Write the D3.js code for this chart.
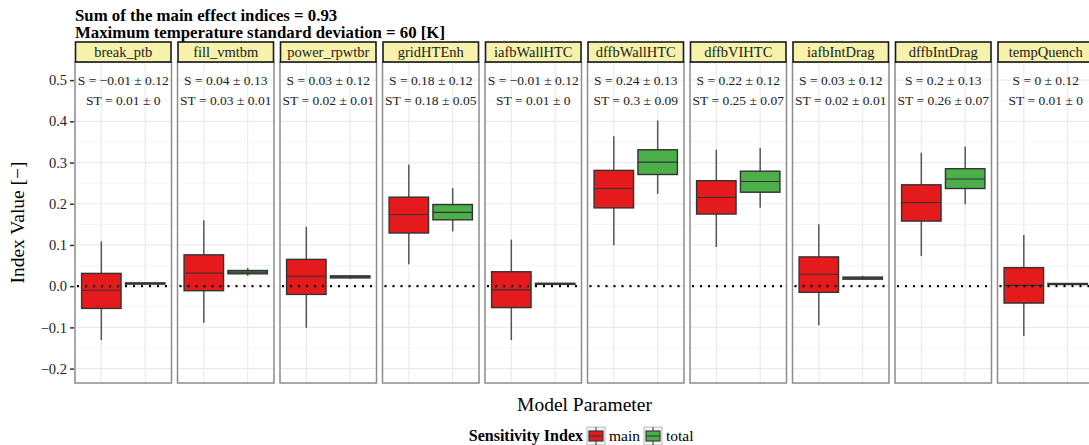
<!DOCTYPE html>
<html>
<head>
<meta charset="utf-8">
<script src="https://cdn.jsdelivr.net/npm/d3@7"></script>
<style>
  body { margin: 0; background: #fff; }
  svg { display: block; font-family: "Liberation Serif", "Times New Roman", serif; }
</style>
</head>
<body>
<div class="graph"></div>
<script>
// model parameters (facets)
var params = ['break_ptb', 'fill_vmtbm', 'power_rpwtbr', 'gridHTEnh', 'iafbWallHTC',
              'dffbWallHTC', 'dffbVIHTC', 'iafbIntDrag', 'dffbIntDrag', 'tempQuench'];
var indexTypes = ['main', 'total'];

// box stats per parameter: [lower whisker, q1, median, q3, upper whisker]
var mainStats = [
  [-0.131, -0.054, -0.010, 0.031, 0.109],
  [-0.089, -0.011, 0.032, 0.076, 0.160],
  [-0.101, -0.020, 0.024, 0.065, 0.144],
  [0.053, 0.129, 0.174, 0.216, 0.295],
  [-0.131, -0.052, -0.009, 0.035, 0.113],
  [0.099, 0.190, 0.237, 0.281, 0.364],
  [0.095, 0.175, 0.215, 0.256, 0.331],
  [-0.095, -0.015, 0.029, 0.071, 0.150],
  [0.073, 0.158, 0.203, 0.246, 0.324],
  [-0.121, -0.041, 0.002, 0.045, 0.124]
];
var totalStats = [
  [0.004, 0.005, 0.0065, 0.008, 0.009],
  [0.025, 0.030, 0.034, 0.038, 0.044],
  [0.018, 0.020, 0.0225, 0.025, 0.027],
  [0.133, 0.161, 0.179, 0.198, 0.238],
  [0.004, 0.005, 0.0060, 0.007, 0.008],
  [0.224, 0.271, 0.301, 0.331, 0.402],
  [0.190, 0.228, 0.254, 0.279, 0.335],
  [0.015, 0.017, 0.0195, 0.022, 0.025],
  [0.199, 0.237, 0.260, 0.285, 0.339],
  [0.004, 0.0045, 0.0055, 0.0065, 0.007]
];

// annotation values
var sMean  = [-0.01, 0.04, 0.03, 0.18, -0.01, 0.24, 0.22, 0.03, 0.2, 0];
var sSd    = [0.12, 0.13, 0.12, 0.12, 0.12, 0.13, 0.12, 0.12, 0.13, 0.12];
var stMean = [0.01, 0.03, 0.02, 0.18, 0.01, 0.3, 0.25, 0.02, 0.26, 0.01];
var stSd   = [0, 0.01, 0.01, 0.05, 0, 0.09, 0.07, 0.01, 0.07, 0];

var yTicks = [-0.2, -0.1, 0, 0.1, 0.2, 0.3, 0.4, 0.5];
var yMinor = [-0.15, -0.05, 0.05, 0.15, 0.25, 0.35, 0.45];

var titleLines = ['Sum of the main effect indices = 0.93',
                  'Maximum temperature standard deviation = 60 [K]'];

// layout
var w = 1089, h = 445;
var svg = d3.select('div.graph').append('svg').attr('width', w).attr('height', h);

var pTop = 62, pBottom = 383, stripTop = 42;
var panelLeft = 75, panelW = 96.5, gap = 6;

var fx = d3.scaleBand().domain(params)
  .range([panelLeft, panelLeft + params.length * panelW + (params.length - 1) * gap])
  .paddingInner(gap / (panelW + gap)).paddingOuter(0);
var bw = fx.bandwidth();
var x = d3.scalePoint().domain(indexTypes).range([0, bw]).padding(0.6);
var step = x.step();
var y = d3.scaleLinear().domain([-0.235, 0.544]).range([pBottom, pTop]);

var color = { main: '#e41a1c', total: '#4daf4a' };

function fmt(v) {
  return String(v).replace('-', '\u2212');
}

// title
svg.selectAll('.title').data(titleLines).enter().append('text')
  .attr('class', 'title')
  .attr('x', panelLeft).attr('y', function(d, i){ return 21 + i * 17; })
  .style('font-family', '"Liberation Serif", serif')
  .style('font-weight', 'bold').style('font-size', '16.8px').attr('fill', '#000')
  .text(function(d){ return d; });

// y axis
var yAxis = d3.axisLeft(y).tickValues(yTicks).tickSize(4).tickPadding(3)
  .tickFormat(d3.format('.1f'));
var yAxisG = svg.append('g').attr('transform', 'translate(' + (panelLeft - 1) + ',0)').call(yAxis);
yAxisG.select('.domain').remove();
yAxisG.selectAll('.tick line').attr('stroke', '#333').attr('stroke-width', 1.5);
yAxisG.selectAll('.tick text').attr('font-size', 14.5).attr('fill', '#222')
  .attr('font-family', '"Liberation Serif", serif');

svg.append('text')
  .attr('transform', 'translate(24,' + ((pTop + pBottom) / 2) + ') rotate(-90)')
  .attr('text-anchor', 'middle').attr('font-size', 19.5).attr('fill', '#000')
  .text('Index Value [\u2212]');

// panels
var panel = svg.selectAll('.panel').data(params).enter().append('g')
  .attr('class', 'panel')
  .attr('transform', function(d){ return 'translate(' + fx(d) + ',0)'; });

panel.append('rect').attr('x', 0).attr('y', pTop).attr('width', bw).attr('height', pBottom - pTop)
  .attr('fill', '#fff');

// grid
panel.each(function(){
  var g = d3.select(this);
  g.selectAll('.minor').data(yMinor).enter().append('line')
    .attr('x1', 0).attr('x2', bw)
    .attr('y1', function(d){ return y(d); }).attr('y2', function(d){ return y(d); })
    .attr('stroke', '#f3f3f3').attr('stroke-width', 0.8);
  g.selectAll('.major').data(yTicks).enter().append('line')
    .attr('x1', 0).attr('x2', bw)
    .attr('y1', function(d){ return y(d); }).attr('y2', function(d){ return y(d); })
    .attr('stroke', '#ebebeb').attr('stroke-width', 1.2);
  g.selectAll('.vgrid').data(indexTypes).enter().append('line')
    .attr('x1', function(d){ return x(d); }).attr('x2', function(d){ return x(d); })
    .attr('y1', pTop).attr('y2', pBottom)
    .attr('stroke', '#ebebeb').attr('stroke-width', 1.2);
});

// boxes
panel.each(function(p, i){
  var g = d3.select(this);
  var boxes = [{ type: 'main', s: mainStats[i] }, { type: 'total', s: totalStats[i] }];
  var bg = g.selectAll('.box').data(boxes).enter().append('g').attr('class', 'box');
  bg.append('line')
    .attr('x1', function(d){ return x(d.type); }).attr('x2', function(d){ return x(d.type); })
    .attr('y1', function(d){ return y(d.s[0]); }).attr('y2', function(d){ return y(d.s[4]); })
    .attr('stroke', '#555').attr('stroke-width', 1.5);
  bg.append('rect')
    .attr('x', function(d){ return x(d.type) - step * 0.45; })
    .attr('width', step * 0.9)
    .attr('y', function(d){ return y(d.s[3]); })
    .attr('height', function(d){ return Math.max(1, y(d.s[1]) - y(d.s[3])); })
    .attr('fill', function(d){ return color[d.type]; })
    .attr('stroke', '#333').attr('stroke-width', 1.4);
  bg.append('line')
    .attr('x1', function(d){ return x(d.type) - step * 0.45; })
    .attr('x2', function(d){ return x(d.type) + step * 0.45; })
    .attr('y1', function(d){ return y(d.s[2]); }).attr('y2', function(d){ return y(d.s[2]); })
    .attr('stroke', '#333').attr('stroke-width', 1.1);

  // zero reference line
  g.append('line').attr('x1', 0).attr('x2', bw).attr('y1', y(0)).attr('y2', y(0))
    .attr('stroke', '#000').attr('stroke-width', 2.2)
    .attr('stroke-dasharray', '2,6').attr('stroke-dashoffset', -2);

  // annotations
  g.append('text').attr('x', bw / 2).attr('y', y(0.5) + 4.5)
    .attr('text-anchor', 'middle').attr('font-size', 13.5).attr('fill', '#222')
    .text('S = ' + fmt(sMean[i]) + ' \u00b1 ' + fmt(sSd[i]));
  g.append('text').attr('x', bw / 2).attr('y', y(0.45) + 4.5)
    .attr('text-anchor', 'middle').attr('font-size', 13.5).attr('fill', '#222')
    .text('ST = ' + fmt(stMean[i]) + ' \u00b1 ' + fmt(stSd[i]));
});

// panel borders
panel.append('rect').attr('x', 0).attr('y', pTop).attr('width', bw).attr('height', pBottom - pTop)
  .attr('fill', 'none').attr('stroke', '#8c8c8c').attr('stroke-width', 1.5);

// strips
panel.append('rect').attr('x', 0.5).attr('y', stripTop).attr('width', bw - 1).attr('height', pTop - stripTop)
  .attr('fill', '#f6f2ac').attr('stroke', '#1a1a1a').attr('stroke-width', 1.6);
panel.append('text').attr('x', bw / 2).attr('y', (stripTop + pTop) / 2 + 5)
  .attr('text-anchor', 'middle').attr('font-size', 14.5).attr('fill', '#1a1a1a')
  .text(function(d){ return d; });

// x axis title
var plotCenter = (fx.range()[0] + fx.range()[1]) / 2;
svg.append('text').attr('x', plotCenter).attr('y', 411)
  .attr('text-anchor', 'middle').attr('font-size', 19.5).attr('fill', '#000')
  .text('Model Parameter');

// legend
var legY = 427, keyS = 18;
svg.append('text').attr('x', 583).attr('y', legY + 14)
  .attr('text-anchor', 'end').attr('font-weight', 'bold').attr('font-size', 16)
  .text('Sensitivity Index');
var legX = { main: 587, total: 644 };
var lg = svg.selectAll('.leg').data(indexTypes).enter().append('g')
  .attr('transform', function(d){ return 'translate(' + legX[d] + ',' + legY + ')'; });
lg.append('rect').attr('width', keyS).attr('height', keyS)
  .attr('fill', '#f2f2f2').attr('stroke', '#bbb').attr('stroke-width', 1);
lg.append('line').attr('x1', keyS / 2).attr('x2', keyS / 2).attr('y1', 0).attr('y2', keyS)
  .attr('stroke', '#555').attr('stroke-width', 1.2);
lg.append('rect').attr('x', 2).attr('y', 4).attr('width', keyS - 4).attr('height', keyS - 8)
  .attr('fill', function(d){ return color[d]; }).attr('stroke', '#333').attr('stroke-width', 1.1);
lg.append('line').attr('x1', 2).attr('x2', keyS - 2).attr('y1', keyS / 2).attr('y2', keyS / 2)
  .attr('stroke', '#333').attr('stroke-width', 1);
lg.append('text').attr('x', keyS + 4).attr('y', 14).attr('font-size', 15.5)
  .text(function(d){ return d; });
</script>
</body>
</html>
